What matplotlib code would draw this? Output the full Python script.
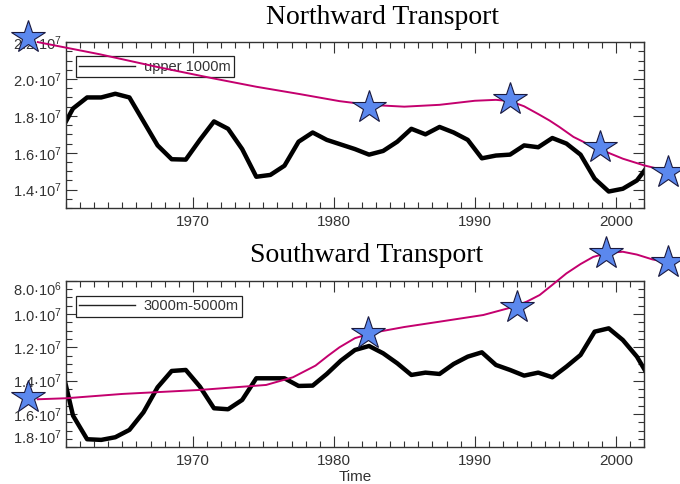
import numpy as np
import matplotlib.pyplot as plt
from matplotlib.lines import Line2D

plt.rcParams['font.family'] = ['Liberation Sans', 'DejaVu Sans']
plt.rcParams['mathtext.default'] = 'regular'

# ---- data (values in units of 1e7) ----
years = np.arange(1960.5, 2003.0, 1.0)   # 1960.5 ... 2002.5

upper = [1.70, 1.84, 1.90, 1.90, 1.92, 1.90, 1.77, 1.64, 1.565, 1.563,
         1.67, 1.77, 1.73, 1.62, 1.47, 1.48, 1.53, 1.66, 1.71, 1.67,
         1.645, 1.62, 1.59, 1.61, 1.66, 1.73, 1.70, 1.74, 1.71, 1.67,
         1.57, 1.585, 1.59, 1.64, 1.63, 1.68, 1.65, 1.59, 1.46, 1.39,
         1.405, 1.45, 1.55]

deep = [1.25, 1.61, 1.752, 1.756, 1.74, 1.696, 1.59, 1.44, 1.342, 1.336,
        1.436, 1.566, 1.572, 1.516, 1.386, 1.386, 1.386, 1.432, 1.43, 1.36,
        1.28, 1.216, 1.192, 1.236, 1.296, 1.366, 1.352, 1.36, 1.30, 1.256,
        1.23, 1.306, 1.336, 1.37, 1.352, 1.38, 1.316, 1.246, 1.106, 1.086,
        1.156, 1.256, 1.40]

# stars (observations) and the smooth fitted curve through them
star_yr_n = [1958.3, 1982.5, 1992.5, 1998.9, 2003.7]
star_v_n = [2.228, 1.846, 1.89, 1.632, 1.496]
fit_yr_n = [1959.0, 1963.4, 1967.5, 1971.4, 1974.5, 1977.6, 1980.4, 1982.5, 1985.0,
            1987.5, 1990.0, 1991.5, 1992.5, 1993.5, 1994.5, 1995.3, 1996.0, 1997.0,
            1998.0, 1998.9, 2000.5, 2002.0, 2003.7]
fit_v_n = [2.20, 2.134, 2.065, 2.004, 1.958, 1.918, 1.88, 1.86, 1.85,
           1.86, 1.882, 1.887, 1.88, 1.852, 1.81, 1.775, 1.74, 1.686,
           1.648, 1.618, 1.568, 1.532, 1.50]

star_yr_s = [1958.3, 1982.4, 1993.0, 1999.3, 2003.7]
star_v_s = [1.496, 1.116, 0.956, 0.636, 0.686]
fit_yr_s = [1959.0, 1961.0, 1965.0, 1970.5, 1975.2, 1977.1, 1978.7, 1979.6, 1980.4,
            1981.5, 1982.8, 1985.0, 1987.5, 1990.6, 1992.7, 1993.7, 1994.6, 1995.5,
            1996.5, 1997.5, 1998.4, 1999.5, 2000.5, 2001.5, 2002.6, 2003.7]
fit_v_s = [1.512, 1.506, 1.48, 1.456, 1.426, 1.38, 1.31, 1.25, 1.20,
           1.145, 1.112, 1.078, 1.046, 1.006, 0.958, 0.925, 0.886, 0.825,
           0.756, 0.70, 0.657, 0.632, 0.626, 0.643, 0.672, 0.69]

ticks_n = [1.4, 1.6, 1.8, 2.0, 2.2]
labels_n = ['1.4\u00b710$^{7}$', '1.6\u00b710$^{7}$', '1.8\u00b710$^{7}$',
            '2.0\u00b710$^{7}$', '2.2\u00b710$^{7}$']
ticks_s = [0.8, 1.0, 1.2, 1.4, 1.6, 1.8]
labels_s = ['8.0\u00b710$^{6}$', '1.0\u00b710$^{7}$', '1.2\u00b710$^{7}$',
            '1.4\u00b710$^{7}$', '1.6\u00b710$^{7}$', '1.8\u00b710$^{7}$']
xticks = [1970, 1980, 1990, 2000]

magenta = '#c4006e'
starblue = '#5b88ee'

fig = plt.figure(figsize=(6.8, 4.84), dpi=100)
ax1 = fig.add_axes([0.097, 0.570, 0.850, 0.343])
ax2 = fig.add_axes([0.097, 0.076, 0.850, 0.344])


def style(ax, ticks, labels, ylo, yhi):
    ax.set_xticks(xticks)
    ax.set_xticks(np.arange(1961, 2003), minor=True)
    ax.set_yticks(ticks)
    ax.set_yticklabels(labels)
    ax.set_yticks(np.arange(ylo, yhi + 0.001, 0.05), minor=True)
    ax.tick_params(which='both', direction='in', top=True, right=True,
                   colors='#333333', labelsize=11)
    ax.tick_params(which='major', length=8, width=0.8)
    ax.tick_params(which='minor', length=4, width=0.8)
    ax.tick_params(axis='y', pad=3, labelsize=10.5)
    ax.tick_params(axis='x', pad=5)
    for sp in ax.spines.values():
        sp.set_color('#333333')
        sp.set_linewidth(1.0)
    ax.set_xlim(1961, 2002)


def add_legend(ax, text, anchor_y):
    leg = ax.legend(handles=[Line2D([], [], color='#222222', lw=1)], labels=[text],
                    loc='upper left', bbox_to_anchor=(0.017, anchor_y), borderaxespad=0,
                    fontsize=10.5, handlelength=3.8, handletextpad=0.6, borderpad=0.25,
                    fancybox=False, framealpha=1, edgecolor='#222222')
    leg.get_frame().set_linewidth(0.9)
    leg.set_zorder(1.5)
    for t in leg.get_texts():
        t.set_color('#333333')


# top panel
ax1.plot(years, upper, color='black', lw=3.2, zorder=2)
ax1.plot(fit_yr_n, fit_v_n, color=magenta, lw=1.4, clip_on=False, zorder=3)
ax1.plot(star_yr_n, star_v_n, ls='none', marker='*', ms=25, mfc=starblue,
         mec='#1a1a40', mew=0.8, clip_on=False, zorder=5)
style(ax1, ticks_n, labels_n, 1.3, 2.2)
ax1.set_ylim(1.3, 2.2)
add_legend(ax1, 'upper 1000m', 0.916)

# bottom panel
ax2.plot(years, deep, color='black', lw=3.2, zorder=2)
ax2.plot(fit_yr_s, fit_v_s, color=magenta, lw=1.4, clip_on=False, zorder=3)
ax2.plot(star_yr_s, star_v_s, ls='none', marker='*', ms=25, mfc=starblue,
         mec='#1a1a40', mew=0.8, clip_on=False, zorder=5)
style(ax2, ticks_s, labels_s, 0.8, 1.8)
ax2.set_ylim(1.8, 0.8)
ylabs = ax2.get_yticklabels()
ylabs[0].set_va('top')
ylabs[-1].set_va('bottom')
ax2.set_xlabel('Time', fontsize=11, color='#333333', labelpad=1)
add_legend(ax2, '3000m-5000m', 0.91)

fig.text(383 / 680, 1 - 18 / 484, 'Northward Transport', family='Liberation Serif',
         fontsize=20, ha='center', va='center')
fig.text(367 / 680, 1 - 256 / 484, 'Southward Transport', family='Liberation Serif',
         fontsize=20, ha='center', va='center')

fig.savefig('out.png', dpi=100)
